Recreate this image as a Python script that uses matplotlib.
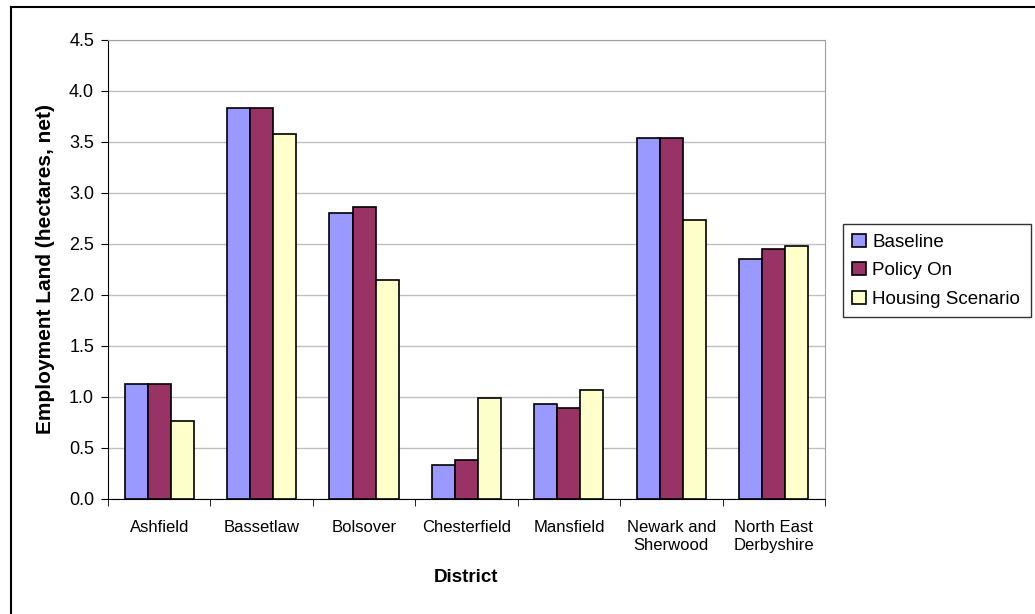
import numpy as np
import matplotlib.pyplot as plt
from matplotlib.lines import Line2D

districts = ["Ashfield", "Bassetlaw", "Bolsover", "Chesterfield", "Mansfield",
             "Newark and\nSherwood", "North East\nDerbyshire"]
baseline = [1.13, 3.83, 2.80, 0.33, 0.93, 3.54, 2.35]
policy_on = [1.13, 3.83, 2.86, 0.38, 0.89, 3.54, 2.45]
housing = [0.76, 3.58, 2.15, 0.99, 1.07, 2.74, 2.48]

series = [("Baseline", baseline, "#9999FF"),
          ("Policy On", policy_on, "#993366"),
          ("Housing Scenario", housing, "#FFFFCC")]

plt.rcParams["font.family"] = ["Liberation Sans", "DejaVu Sans"]

fig = plt.figure(figsize=(10.35, 6.14), dpi=100)
ax = fig.add_axes([0.1043, 0.1873, 0.6928, 0.7476])

x = np.arange(len(districts))
w = 0.225
for i, (name, vals, col) in enumerate(series):
    ax.bar(x + (i - 1) * w, vals, w, color=col, edgecolor="black",
           linewidth=1.2, label=name, zorder=3)

ax.set_xlim(-0.5, len(districts) - 0.5)
ax.set_ylim(0, 4.5)
yt = np.arange(0, 4.51, 0.5)
ax.set_yticks(yt)
ax.set_yticklabels([f"{v:.1f}" for v in yt], fontsize=13)
ax.yaxis.grid(True, color="#c0c0c0", linewidth=1, zorder=0)

# category labels centred, tick marks between groups
ax.set_xticks(x)
ax.set_xticklabels(districts, fontsize=12, linespacing=1.25)
ax.set_xticks(np.arange(-0.5, len(districts)), minor=True)
ax.tick_params(axis="x", which="major", length=0, pad=15)
ax.tick_params(axis="x", which="minor", length=5, direction="out")
ax.tick_params(axis="y", length=5, direction="out", pad=5)

for s in ["top", "right"]:
    ax.spines[s].set_color("#a0a0a0")
for s in ["left", "bottom"]:
    ax.spines[s].set_color("black")

ax.set_ylabel("Employment Land (hectares, net)", fontsize=15, fontweight="bold", labelpad=10)
ax.set_xlabel("District", fontsize=13.5, fontweight="bold", labelpad=12)

leg = ax.legend(loc="lower left", bbox_to_anchor=(843 / 1035, (614 - 317) / 614, 188 / 1035, 95 / 614),
                bbox_transform=fig.transFigure, mode="expand", fontsize=13.5, frameon=True,
                fancybox=False, edgecolor="black", handlelength=0.7,
                handleheight=0.7, handletextpad=0.35, labelspacing=0.6,
                borderpad=0.5, borderaxespad=0)
leg.get_frame().set_linewidth(1)

# chart-area border (left and top edges)
fig.add_artist(Line2D([10.5 / 1035, 10.5 / 1035], [0, (614 - 7) / 614],
                      transform=fig.transFigure, color="black", linewidth=1.5))
fig.add_artist(Line2D([10.5 / 1035, 1], [(614 - 7) / 614, (614 - 7) / 614],
                      transform=fig.transFigure, color="black", linewidth=1.5))

fig.savefig("out.png", dpi=100)
